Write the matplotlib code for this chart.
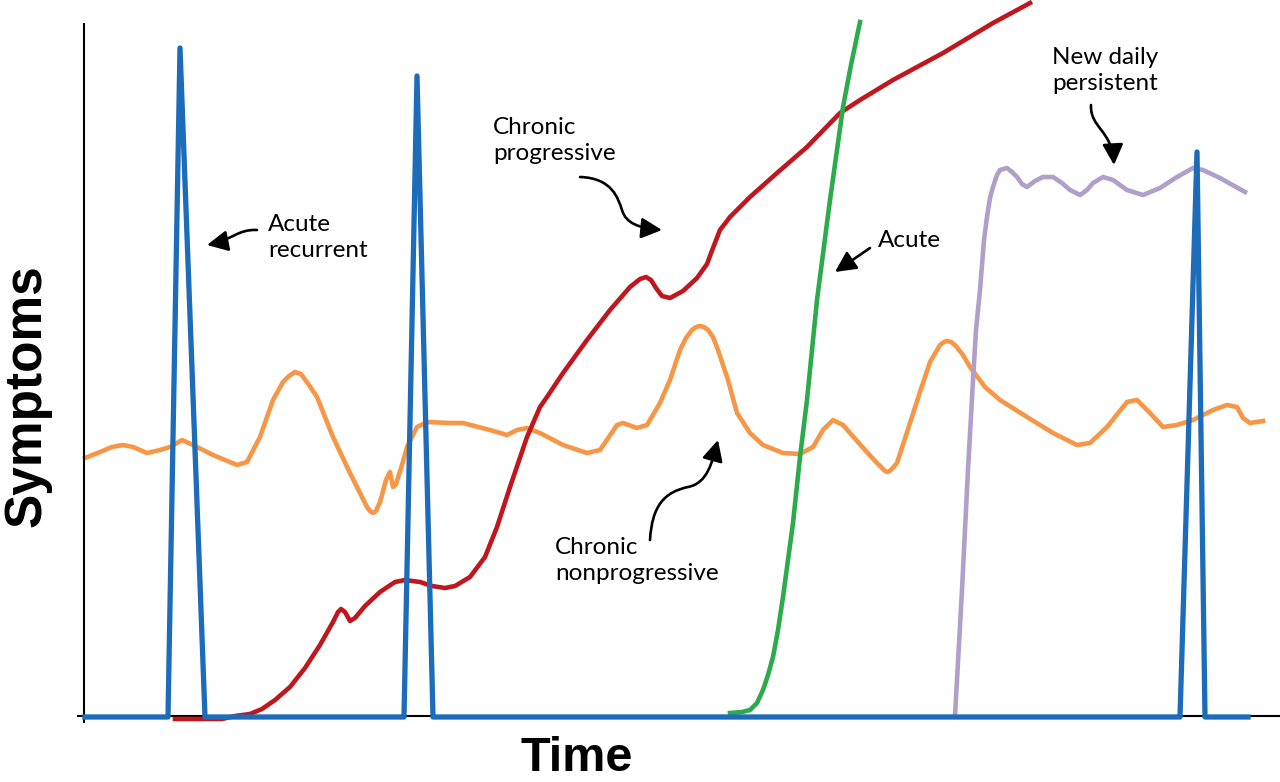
import matplotlib
matplotlib.use("Agg")
import matplotlib.pyplot as plt
from matplotlib.patches import FancyArrowPatch
from matplotlib.path import Path

# symptom curves (time, level), level 0 = baseline
recurrent_t = [85, 168, 180, 205, 404, 417, 433, 1180, 1197, 1205, 1248]
recurrent_s = [-1, -1, 668, -1, -1, 640, -1, -1, 564, -1, -1]

progressive_t = [175, 222, 235, 250, 262, 275, 290, 305, 320, 333, 338, 341, 345, 350, 355,
                 365, 380, 395, 405, 420, 432, 445, 455, 470, 485, 497, 510, 527, 540,
                 547, 563, 587, 610, 630, 640, 646, 651, 656, 662, 670, 683, 697, 707, 713,
                 720, 730, 750, 777, 807, 840, 860, 893, 943, 993, 1030]
progressive_s = [-3, -3, 0, 2, 7, 16, 29, 48, 71, 94, 104, 107, 104, 95, 98,
                 110, 124, 134, 136, 134, 130, 128, 130, 139, 159, 189, 229, 279, 309,
                 319, 343, 376, 406, 429, 437, 439, 436, 428, 420, 418, 425, 438, 452, 468,
                 486, 499, 519, 543, 569, 603, 616, 636, 663, 693, 713]

nonprog_t = [85, 100, 112, 123, 133, 147, 160, 170, 182, 193, 213, 237, 247, 260, 273,
             283, 289, 295, 301, 309, 317, 333, 350, 367, 370, 373, 376, 380, 386, 390,
             393, 396, 402, 407, 417, 427, 450, 463, 490, 507, 517, 527, 540, 563, 587,
             600, 617, 623, 637, 647, 660, 670, 680, 686, 692, 696, 700, 704, 708, 713,
             718, 728, 737, 750, 763, 783, 800, 813, 823, 833, 843, 850, 865, 877, 885,
             888, 891, 897, 910, 920, 930, 940, 944, 947, 951, 955, 963, 970, 985, 1000,
             1027, 1053, 1077, 1090, 1107, 1127, 1137, 1150, 1163, 1177, 1193, 1213, 1227,
             1237, 1243, 1250, 1263]
nonprog_s = [258, 264, 269, 271, 269, 263, 266, 269, 276, 271, 261, 251, 254, 279, 316,
             334, 340, 344, 342, 331, 319, 279, 243, 209, 205, 203, 205, 214, 236, 244,
             229, 232, 251, 269, 289, 294, 293, 293, 286, 281, 286, 288, 283, 271, 263,
             266, 291, 293, 288, 291, 313, 336, 366, 378, 386, 389, 390, 389, 386, 379,
             366, 336, 303, 283, 271, 263, 262, 269, 286, 296, 291, 283, 266, 253, 245,
             244, 246, 253, 293, 324, 354, 371, 374, 375, 374, 371, 361, 349, 329, 316,
             299, 283, 271, 273, 289, 314, 316, 303, 289, 291, 296, 306, 311,
             309, 298, 293, 295]

acute_t = [730, 742, 750, 757, 763, 768, 773, 778, 783, 788, 793, 800, 807, 817, 830,
           843, 851, 860]
acute_s = [3, 4, 6, 13, 26, 41, 59, 86, 119, 156, 193, 259, 316, 416, 516, 609, 651, 694]

ndp_t = [955, 962, 968, 973, 976, 980, 984, 987, 990, 993, 997, 1000, 1007, 1012, 1017,
         1022, 1027, 1035, 1043, 1053, 1062, 1070, 1080, 1087, 1093, 1103, 1113, 1127,
         1143, 1160, 1177, 1193, 1203, 1220, 1245]
ndp_s = [0, 126, 246, 336, 386, 426, 476, 499, 518, 529, 541, 546, 548, 544, 539,
         532, 529, 535, 539, 539, 533, 526, 521, 526, 533, 539, 536, 526,
         521, 528, 539, 548, 546, 538, 524]

labels = ["Acute\nrecurrent", "Chronic\nprogressive", "Acute",
          "Chronic\nnonprogressive", "New daily\npersistent"]
# left edge and baseline of the last line of each label
label_xy = [(268, 459), (493, 556), (878, 469), (555, 136), (1052, 626)]

fig = plt.figure(figsize=(12.8, 7.82), dpi=100)
ax = fig.add_axes([0, 0, 1, 1])
ax.set_xlim(0, 1280)
ax.set_ylim(-66, 716)

lw = 3.3
ax.plot(nonprog_t, nonprog_s, color="#f79646", lw=lw, solid_joinstyle="round", zorder=2)
ax.plot(progressive_t, progressive_s, color="#c0171e", lw=lw, solid_joinstyle="round", zorder=3)
ax.plot(acute_t, acute_s, color="#2bab4c", lw=lw, solid_joinstyle="round", zorder=4)
ax.plot(ndp_t, ndp_s, color="#b09fcb", lw=lw, solid_joinstyle="round", zorder=5)
ax.plot(recurrent_t, recurrent_s, color="#1c6cb9", lw=3.8, solid_joinstyle="round", zorder=6)

# axes: only left and bottom lines through the origin
for side in ["top", "right"]:
    ax.spines[side].set_visible(False)
ax.spines["left"].set_position(("data", 84))
ax.spines["bottom"].set_position(("data", 0))
ax.spines["left"].set_bounds(0, 692)
ax.spines["bottom"].set_bounds(84, 1280)
for side in ["left", "bottom"]:
    ax.spines[side].set_linewidth(1.5)
ax.set_xticks([84])
ax.set_yticks([0])
ax.tick_params(length=5, width=1.5, labelbottom=False, labelleft=False)

ax.text(27, 320, "Symptoms", rotation=90, ha="center", va="center",
        fontsize=37, fontweight="bold", family="Liberation Sans")
ax.text(577, -65, "Time", ha="center", va="bottom",
        fontsize=35, fontweight="bold", family="Liberation Sans")

for txt, (x, y) in zip(labels, label_xy):
    ax.text(x, y, txt, ha="left", va="baseline", fontsize=17.5, family="Lato",
            linespacing=1.3)

# curved pointer arrows
M, C = Path.MOVETO, Path.CURVE4
arrow_paths = [
    ([(257, 486), (238, 487), (232, 476), (207, 471)], [M, C, C, C]),
    ([(580, 539), (612, 538), (618, 518), (622, 506), (626, 492), (640, 488), (662, 486)],
     [M, C, C, C, C, C, C]),
    ([(870, 468), (835, 444)], [M, Path.LINETO]),
    ([(650, 176), (652, 211), (665, 224), (688, 229), (708, 233), (712, 254), (718, 276)],
     [M, C, C, C, C, C, C]),
    ([(1091, 611), (1090, 588), (1112, 586), (1114, 551)], [M, C, C, C]),
]
for verts, codes in arrow_paths:
    arr = FancyArrowPatch(path=Path(verts, codes), arrowstyle="-|>,head_length=0.9,head_width=0.45",
                          mutation_scale=14, lw=1.9, color="black", shrinkA=0, shrinkB=0)
    ax.add_patch(arr)

fig.savefig("out.png", dpi=100)
